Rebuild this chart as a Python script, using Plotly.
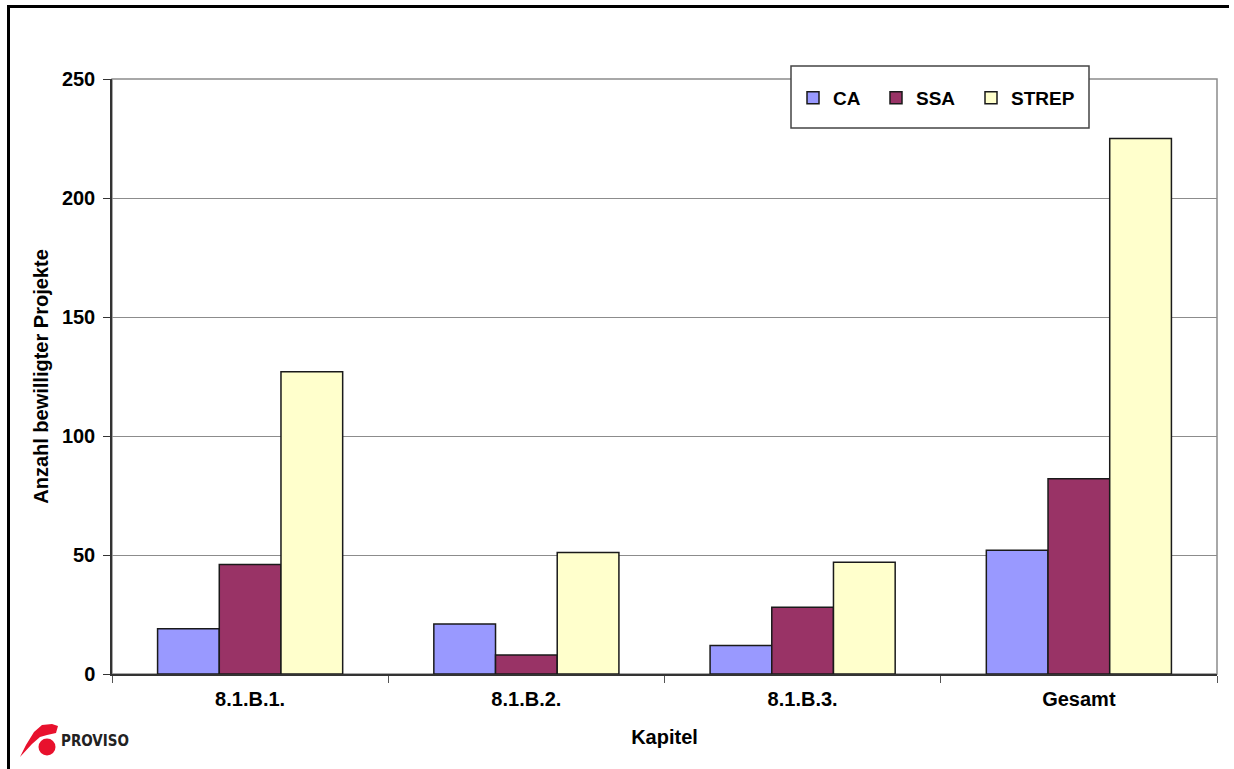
import plotly.graph_objects as go

categories = ["8.1.B.1.", "8.1.B.2.", "8.1.B.3.", "Gesamt"]
ca = [19, 21, 12, 52]
ssa = [46, 8, 28, 82]
strep = [127, 51, 47, 225]
series_names = ["CA", "SSA", "STREP"]
colors = ["#9999FF", "#993366", "#FFFFCC"]
y_ticks = [0, 50, 100, 150, 200, 250]

W, H = 1234, 769
ML, MR, MT, MB = 112, 17, 79, 95
PW, PH = W - ML - MR, H - MT - MB


def px(x):
    return (x - ML) / PW


def py(y):
    return (H - MB - y) / PH


FONT = "Liberation Sans, Arial, sans-serif"
legend_keys = ["legend", "legend2", "legend3"]
legend_left_px = [793, 876, 971]

fig = go.Figure()
for name, vals, col, lg in zip(series_names, [ca, ssa, strep], colors, legend_keys):
    fig.add_trace(go.Bar(
        x=categories, y=vals, name=name, legend=lg,
        marker=dict(color=col, line=dict(color="#1a1a1a", width=1.5)),
    ))

shapes = [
    dict(type="rect", xref="paper", yref="paper", x0=0, x1=1, y0=0, y1=1,
         line=dict(color="#8c8c8c", width=1.5), layer="below"),
    dict(type="rect", xref="paper", yref="paper", x0=px(791), x1=px(1089),
         y0=py(128), y1=py(66), line=dict(color="#444444", width=1.5),
         fillcolor="white", layer="above"),
    dict(type="line", xref="paper", yref="paper", x0=px(8.5), x1=px(8.5),
         y0=py(6), y1=py(769), line=dict(color="black", width=3)),
    dict(type="line", xref="paper", yref="paper", x0=px(7), x1=px(1229),
         y0=py(6.5), y1=py(6.5), line=dict(color="black", width=3)),
    dict(type="circle", xref="paper", yref="paper", x0=px(38.5), x1=px(55.5),
         y0=py(755.5), y1=py(738.5), fillcolor="#E8112D", line=dict(width=0)),
]
pts = [(20, 757), (26, 745), (34, 732), (42, 725), (52, 724), (58, 726),
       (56, 733), (47, 735), (40, 737), (32, 744)]
path = "M " + " L ".join(f"{px(a):.5f},{py(b):.5f}" for a, b in pts) + " Z"
shapes.append(dict(type="path", xref="paper", yref="paper", path=path,
                   fillcolor="#E8112D", line=dict(width=0)))

legend_font = dict(family=FONT, size=19, color="black", weight="bold")
legend_layouts = {}
for lg, lx in zip(legend_keys, legend_left_px):
    legend_layouts[lg] = dict(orientation="h", x=px(lx), xanchor="left", y=py(98),
                              yanchor="middle", bgcolor="rgba(0,0,0,0)",
                              borderwidth=0, font=legend_font)

fig.update_layout(
    width=W, height=H,
    margin=dict(l=ML, r=MR, t=MT, b=MB),
    paper_bgcolor="white", plot_bgcolor="white",
    barmode="group", bargap=0.33, bargroupgap=0,
    font=dict(family=FONT, size=20, color="black", weight="bold"),
    showlegend=True,
    shapes=shapes,
    annotations=[dict(text="PROVISO", xref="paper", yref="paper",
                      x=px(59), y=py(741), xanchor="left", yanchor="middle",
                      showarrow=False,
                      font=dict(family="Liberation Sans Narrow, DejaVu Sans Condensed, sans-serif",
                                size=15, color="#222222", weight="bold"))],
    **legend_layouts,
)
fig.update_xaxes(
    showline=True, linecolor="#333333", linewidth=1.5,
    ticks="outside", tickson="boundaries", ticklen=7, tickcolor="#555555",
    ticklabelstandoff=6,
    tickfont=dict(family=FONT, size=20, color="black", weight="bold"),
    title=dict(text="Kapitel", standoff=21,
               font=dict(family=FONT, size=20, color="black", weight="bold")),
    showgrid=False, zeroline=False,
)
fig.update_yaxes(
    range=[0, 250], tickvals=y_ticks,
    showline=True, linecolor="#333333", linewidth=1.5,
    ticks="outside", ticklen=7, tickcolor="#333333",
    ticklabelstandoff=4,
    tickfont=dict(family=FONT, size=20, color="black", weight="bold"),
    showgrid=True, gridcolor="#8c8c8c", gridwidth=1, zeroline=False,
    title=dict(text="Anzahl bewilligter Projekte", standoff=8,
               font=dict(family=FONT, size=20, color="black", weight="bold")),
)

fig.write_html("out.html", config={"displayModeBar": False},
               post_script="document.body.style.margin='0';document.body.style.overflow='hidden';")
